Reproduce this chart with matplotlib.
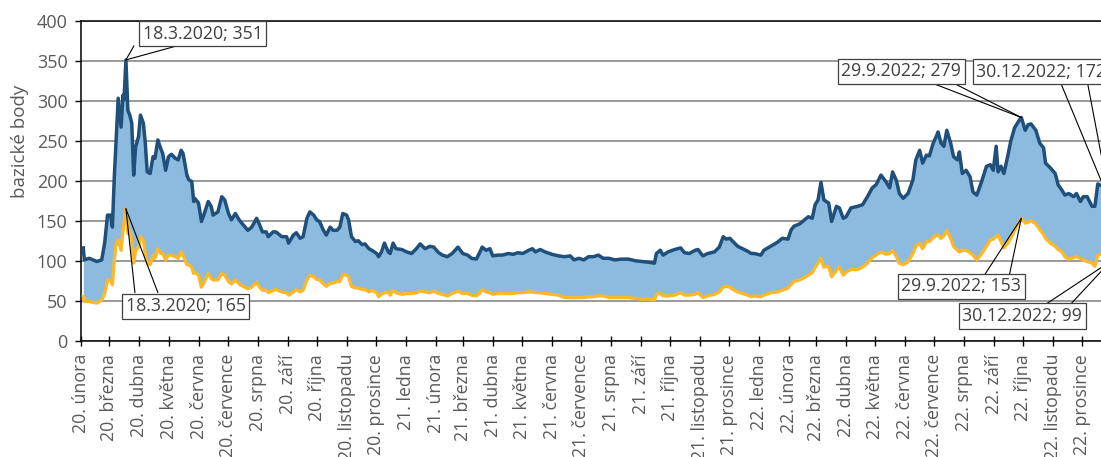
import matplotlib
matplotlib.use("Agg")
import matplotlib.pyplot as plt
import pandas as pd
import numpy as np

plt.rcParams['font.family'] = ['Open Sans', 'DejaVu Sans']

# ---------------- data ----------------
dates = [
    "2020-02-03","2020-02-04","2020-02-09","2020-02-17","2020-02-22","2020-02-25","2020-02-28","2020-03-02",
    "2020-03-04","2020-03-06","2020-03-08","2020-03-10","2020-03-13","2020-03-15","2020-03-16","2020-03-18",
    "2020-03-20","2020-03-22","2020-03-24","2020-03-26","2020-03-28","2020-03-31","2020-04-02","2020-04-05",
    "2020-04-07","2020-04-09","2020-04-12","2020-04-15","2020-04-17","2020-04-20","2020-04-23","2020-04-25",
    "2020-04-28","2020-05-01","2020-05-04","2020-05-08","2020-05-11","2020-05-14","2020-05-16","2020-05-20",
    "2020-05-22","2020-05-25","2020-05-27","2020-05-28","2020-06-01","2020-06-04","2020-06-07","2020-06-11",
    "2020-06-14","2020-06-16","2020-06-21","2020-06-25","2020-06-28","2020-07-02","2020-07-05","2020-07-09",
    "2020-07-13","2020-07-17","2020-07-22","2020-07-26","2020-07-31","2020-08-03","2020-08-06","2020-08-10",
    "2020-08-12","2020-08-17","2020-08-20","2020-08-26","2020-08-31","2020-09-02","2020-09-07","2020-09-10",
    "2020-09-14","2020-09-17","2020-09-21","2020-09-24","2020-09-28","2020-10-01","2020-10-04","2020-10-08",
    "2020-10-11","2020-10-15","2020-10-18","2020-10-22","2020-10-25","2020-10-28","2020-11-01","2020-11-03",
    "2020-11-06","2020-11-10","2020-11-13","2020-11-17","2020-11-20","2020-11-24","2020-11-27","2020-12-02",
    "2020-12-04","2020-12-07","2020-12-10","2020-12-14","2020-12-16","2020-12-19","2020-12-22","2020-12-28",
    "2021-01-02","2021-01-07","2021-01-12","2021-01-16","2021-01-21","2021-01-26","2021-01-30","2021-02-04",
    "2021-02-08","2021-02-13","2021-02-18","2021-02-24","2021-03-01","2021-03-06","2021-03-10","2021-03-15",
    "2021-03-18","2021-03-21","2021-03-25","2021-03-29","2021-04-01","2021-04-06","2021-04-11","2021-04-17",
    "2021-04-22","2021-04-27","2021-05-02","2021-05-08","2021-05-12","2021-05-15","2021-05-20","2021-05-25",
    "2021-06-01","2021-06-08","2021-06-14","2021-06-20","2021-06-24","2021-06-29","2021-07-04","2021-07-09",
    "2021-07-14","2021-07-19","2021-07-24","2021-07-30","2021-08-05","2021-08-12","2021-08-19","2021-08-26",
    "2021-09-02","2021-09-09","2021-09-15","2021-09-17","2021-09-21","2021-09-24","2021-09-29","2021-10-06",
    "2021-10-12","2021-10-16","2021-10-21","2021-10-27","2021-10-30","2021-11-04","2021-11-09","2021-11-16",
    "2021-11-21","2021-11-25","2021-11-28","2021-12-02","2021-12-05","2021-12-10","2021-12-15","2021-12-20",
    "2021-12-24","2021-12-27","2022-01-03","2022-01-06","2022-01-13","2022-01-20","2022-01-25","2022-01-31",
    "2022-02-03","2022-02-06","2022-02-12","2022-02-17","2022-02-21","2022-02-25","2022-02-28","2022-03-03",
    "2022-03-06","2022-03-09","2022-03-14","2022-03-17","2022-03-22","2022-03-25","2022-03-29","2022-04-01",
    "2022-04-06","2022-04-13","2022-04-18","2022-04-23","2022-04-28","2022-05-02","2022-05-07","2022-05-12",
    "2022-05-16","2022-05-19","2022-05-23","2022-05-26","2022-05-30","2022-06-04","2022-06-09","2022-06-12",
    "2022-06-16","2022-06-19","2022-06-23","2022-06-26","2022-06-30","2022-07-03","2022-07-05","2022-07-08",
    "2022-07-11","2022-07-14","2022-07-18","2022-07-21","2022-07-25","2022-07-27","2022-07-30","2022-08-03",
    "2022-08-07","2022-08-10","2022-08-14","2022-08-19","2022-08-24","2022-08-28","2022-08-31","2022-09-03",
    "2022-09-05","2022-09-08","2022-09-11","2022-09-15","2022-09-18","2022-09-22","2022-09-27","2022-09-29",
    "2022-10-03","2022-10-06","2022-10-09","2022-10-14","2022-10-18","2022-10-22","2022-10-24","2022-10-29",
    "2022-11-03","2022-11-06","2022-11-10","2022-11-13","2022-11-17","2022-11-22","2022-11-25","2022-11-29",
    "2022-12-02","2022-12-06","2022-12-11","2022-12-14","2022-12-17","2022-12-22","2022-12-30",
]

upper = [
    116,101,103,99,101,122,157,157, 142,205,253,303,267,307,301,351,
    288,282,272,207,242,255,282,272, 247,211,209,230,228,251,240,234,
    213,230,233,228,226,238,234,207, 201,199,174,178,172,149,159,174,
    168,157,161,180,176,159,151,159, 151,145,138,142,153,145,136,136,
    130,136,136,130,130,122,132,135, 128,130,153,161,157,151,149,138,
    132,142,138,138,142,159,157,151, 130,124,125,120,121,115,113,109,
    105,111,122,111,109,122,115,114, 111,109,115,121,115,118,117,110,
    107,105,109,117,109,107,103,102, 109,117,113,115,106,107,107,109,
    108,110,109,113,115,111,114,111, 108,106,105,106,101,103,101,105,
    105,107,103,103,101,102,102,100, 99,98,97,109,113,107,111,114,
    116,110,109,113,114,106,109,111, 117,130,127,128,124,118,115,112,
    109,109,107,113,118,123,128,127, 138,143,146,151,155,153,170,176,
    198,176,172,149,168,166,153,155, 166,168,170,180,191,195,207,199,
    191,211,200,184,178,184,201,226, 238,222,232,231,247,255,261,247,
    243,263,247,230,226,236,209,213, 205,186,182,199,218,220,213,243,
    211,218,209,231,249,266,276,279, 263,270,271,263,247,241,222,216,
    209,195,188,182,184,180,184,174, 180,180,168,168,196,193,172,
]

lower = [
    55,49,49,47,51,59,76,76, 70,101,122,126,113,138,147,165,
    134,138,126,97,113,117,130,126, 109,97,95,107,103,115,109,109,
    101,107,107,105,103,111,107,95, 95,92,84,86,82,67,74,84,
    78,76,76,84,82,74,71,76, 71,68,65,67,73,67,63,63,
    60,63,64,61,60,57,61,64, 61,63,76,82,80,77,76,71,
    68,72,72,74,74,83,82,80, 68,66,66,64,64,61,63,60,
    55,58,60,61,57,63,60,58, 59,59,60,62,61,60,62,59,
    58,56,59,62,59,59,57,56, 59,64,61,60,58,59,59,59,
    59,60,60,61,61,60,60,59, 58,57,54,54,54,54,54,55,
    55,56,56,54,54,54,54,53, 52,52,51,58,59,56,56,57,
    60,57,57,58,60,54,56,58, 61,67,68,67,64,61,59,57,
    55,56,55,57,60,61,63,66, 70,74,76,79,82,85,92,97,
    103,92,93,80,88,92,82,86, 89,89,92,97,104,107,111,108,
    109,113,105,97,95,99,109,118, 122,115,124,124,129,132,132,128,
    131,138,128,118,113,111,113,113, 110,107,101,109,118,126,127,130,
    132,124,116,122,128,138,149,153, 147,148,150,146,139,133,128,122,
    118,114,111,105,102,104,105,103, 101,99,97,93,107,109,99,
]

tick_labels = [
    "20. února", "20. března", "20. dubna", "20. května", "20. června", "20. července",
    "20. srpna", "20. září", "20. října", "20. listopadu", "20. prosince",
    "21. ledna", "21. února", "21. března", "21. dubna", "21. května", "21. června",
    "21. července", "21. srpna", "21. září", "21. října", "21. listopadu", "21. prosince",
    "22. ledna", "22. února", "22. března", "22. dubna", "22. května", "22. června",
    "22. července", "22. srpna", "22. září", "22. října", "22. listopadu", "22. prosince",
]

y_label = "bazické body"

# annotations: (date, value, text)
notes = [
    ("2020-03-18", 351, "18.3.2020; 351"),
    ("2020-03-18", 165, "18.3.2020; 165"),
    ("2022-09-29", 279, "29.9.2022; 279"),
    ("2022-12-30", 172, "30.12.2022; 172"),
    ("2022-09-29", 153, "29.9.2022; 153"),
    ("2022-12-30", 99, "30.12.2022; 99"),
]
# layout of the call-outs (pixel offsets from the point: box centre, two wedge ends)
note_layout = [
    ((77, 26), (8, 14), (51, 14)),
    ((60, -97.5), (9, -84), (32, -84)),
    ((-120, 46), (-92, 35.5), (-70, 35.5)),
    ((-69, 131.5), (-50, 121), (-23, 121)),
    ((-60, -68), (-37, -57), (-12, -57)),
    ((-88, -54.5), (-65, -43), (-40, -43)),
]

# ---------------- figure ----------------
W, H = 1101, 457
fig = plt.figure(figsize=(W / 100, H / 100), dpi=100)
x0, x1 = pd.Timestamp("2020-02-01"), pd.Timestamp("2022-12-31")
ndays = (x1 - x0).days
ax_left, ax_top, ax_bottom = 81.4, 20.7, 340.7
ax_width_px = ndays * 0.968
ax = fig.add_axes([ax_left / W, 1 - ax_bottom / H, ax_width_px / W, (ax_bottom - ax_top) / H])

d = pd.to_datetime(dates)
up = np.array(upper, dtype=float)
lo = np.array(lower, dtype=float)

ax.fill_between(d, lo, up, color="#8dbadf", lw=0, zorder=2)
ax.plot(d, lo, color="#fbb829", lw=2.4, solid_joinstyle="round", zorder=3)
ax.plot(d, up, color="#1f4f7b", lw=2.5, solid_joinstyle="round", zorder=4)

ax.set_xlim(x0, x1)
ax.set_ylim(0, 400)
ax.set_yticks(np.arange(0, 401, 50))
ax.grid(axis="y", color="#7f7f7f", lw=1.1, zorder=1)
ax.set_axisbelow(True)

ticks = pd.date_range("2020-02-01", periods=len(tick_labels), freq="MS")
ax.set_xticks(ticks)
ax.set_xticklabels(tick_labels, rotation=90, ha="center", va="top")

txt_col = "#595959"
ax.tick_params(axis="x", direction="inout", length=7, width=1, color="black",
               labelsize=12.8, labelcolor=txt_col, pad=6)
ax.tick_params(axis="y", direction="out", length=4, width=1, color="black",
               labelsize=13, labelcolor=txt_col, pad=6)
for s in ["left", "bottom", "top"]:
    ax.spines[s].set_color("black")
    ax.spines[s].set_linewidth(1.1)
ax.spines["right"].set_visible(False)

fig.text(20 / W, 1 - 141 / H, y_label, rotation=90, ha="center", va="center",
         fontsize=13.5, color=txt_col)

for (dt, val, label), (c, e1, e2) in zip(notes, note_layout):
    p = (pd.Timestamp(dt), val)
    for e in (e1, e2):
        ax.annotate("", xy=p, xytext=e, textcoords="offset pixels",
                    arrowprops=dict(arrowstyle="-", color="black", lw=0.8,
                                    shrinkA=0, shrinkB=0),
                    annotation_clip=False, zorder=6)
    ax.annotate(label, xy=p, xytext=c, textcoords="offset pixels",
                ha="center", va="center", fontsize=12.8, color="#404040",
                bbox=dict(boxstyle="square,pad=0.2", fc="white", ec="#404040", lw=0.9),
                annotation_clip=False, zorder=7)

fig.savefig("out.png", dpi=100)
